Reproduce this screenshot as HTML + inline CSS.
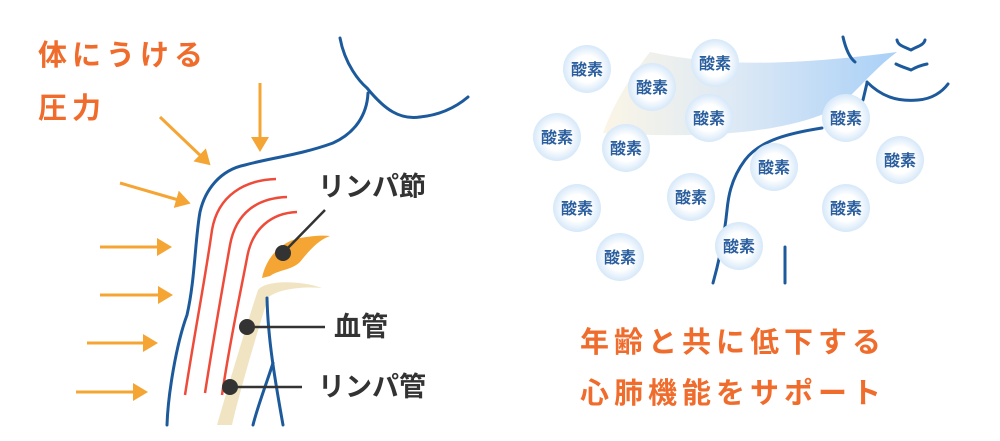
<!DOCTYPE html>
<html><head><meta charset="utf-8"><style>
html,body{margin:0;padding:0;background:#fff;}
svg{display:block;}
.t{font-family:"Liberation Sans","Noto Sans CJK JP",sans-serif;font-weight:bold;}
</style></head><body>
<svg width="1000" height="441" viewBox="0 0 1000 441" xmlns="http://www.w3.org/2000/svg">
<defs>
<linearGradient id="g" x1="0" y1="0" x2="1" y2="0">
<stop offset="0" stop-color="#fbf5e6"/><stop offset="0.45" stop-color="#dde9f5"/><stop offset="1" stop-color="#a9d0f7"/>
</linearGradient>
<radialGradient id="c" cx="0.5" cy="0.5" r="0.5">
<stop offset="0.55" stop-color="#ffffff"/><stop offset="1" stop-color="#d6e8f9"/>
</radialGradient>
<marker id="ah" markerWidth="6" markerHeight="6" refX="2" refY="3" orient="auto" markerUnits="strokeWidth">
<path d="M0,0 L5,3 L0,6 Z" fill="#f5a534"/></marker>
</defs>

<text class="t" x="38" y="65" font-size="29" fill="#ef6c2c" letter-spacing="5">体にうける</text>
<text class="t" x="38" y="118" font-size="29" fill="#ef6c2c" letter-spacing="5">圧力</text>

<g stroke="#f5a534" stroke-width="3" fill="none" marker-end="url(#ah)">
<line x1="260" y1="83" x2="260" y2="143"/>
<line x1="160" y1="117" x2="204" y2="159"/>
<line x1="120" y1="183" x2="182" y2="201"/>
<line x1="100" y1="247" x2="163" y2="247"/>
<line x1="100" y1="295" x2="164" y2="295"/>
<line x1="87" y1="343" x2="149" y2="343"/>
<line x1="76" y1="392" x2="139" y2="392"/>
</g>

<path d="M217,425 C230,380 248,320 258,290 C265,280 300,280 322,288 C300,286 275,290 268,298 C258,330 240,390 232,425 Z" fill="#f1e4c3"/>
<path d="M262,278 C266,258 280,242 300,238 C312,236 322,235 330,236 C318,240 308,252 300,262 C292,270 278,270 270,276 Z" fill="#f5a534"/>

<g stroke="#ee4b3a" stroke-width="2.5" fill="none">
<path d="M185,395 C195,330 205,280 212,230 C218,195 245,180 276,179"/>
<path d="M205,393 C214,335 223,285 230,245 C236,212 258,198 287,197"/>
<path d="M222,395 C230,340 240,295 247,258 C252,228 272,213 297,212"/>
</g>

<g stroke="#1d5a9c" stroke-width="3" fill="none" stroke-linecap="round">
<path d="M167,425 C168,395 176,345 187,315 C195,280 195,240 200,212 C205,190 220,170 245,165 C270,158 300,155 333,143 C355,133 367,115 368,93"/>
<path d="M340,38 C345,65 360,82 367,88 C385,110 400,120 420,117 C440,115 455,108 468,97"/>
<path d="M267,298 C268,340 275,380 283,425"/>
<path d="M253,425 C258,405 266,385 273,363"/>
</g>

<g stroke="#333" stroke-width="2.5">
<line x1="283" y1="253" x2="325" y2="210"/>
<line x1="247" y1="327" x2="325" y2="327"/>
<line x1="230" y1="387" x2="302" y2="387"/>
</g>
<g fill="#333">
<circle cx="283" cy="253" r="8"/>
<circle cx="247" cy="327" r="8"/>
<circle cx="230" cy="387" r="8"/>
</g>
<g class="t" font-size="27" fill="#333">
<text x="318" y="196">リンパ節</text>
<text x="334" y="336">血管</text>
<text x="318" y="396">リンパ管</text>
</g>

<path d="M650,52 C700,62 760,70 897,52 C870,72 850,100 833,110 C790,130 720,140 603,133 C615,100 632,75 650,52 Z" fill="url(#g)"/>

<g stroke="#1d5a9c" stroke-width="3" fill="none" stroke-linecap="round">
<path d="M843,37 C846,50 850,58 855,62"/>
<path d="M867,83 L863,100"/>
<path d="M867,82 C880,95 895,102 918,100 C932,99 942,92 948,84"/>
<path d="M897,40 C898,45 902,46 911,50 C918,46 924,45 925,40"/>
<path d="M896,64 C902,67 906,68 911,70 C918,66 922,65 927,64"/>
<path d="M822,128 C790,133 760,140 745,160 C730,180 728,200 727,210 C724,240 718,265 713,283"/>
<path d="M785,247 L785,283"/>
</g>

<g>
<circle cx="587" cy="69" r="24" fill="url(#c)"/>
<circle cx="652" cy="87" r="24" fill="url(#c)"/>
<circle cx="715" cy="63" r="24" fill="url(#c)"/>
<circle cx="557" cy="137" r="24" fill="url(#c)"/>
<circle cx="626" cy="148" r="24" fill="url(#c)"/>
<circle cx="709" cy="118" r="24" fill="url(#c)"/>
<circle cx="846" cy="118" r="24" fill="url(#c)"/>
<circle cx="774" cy="167" r="24" fill="url(#c)"/>
<circle cx="900" cy="160" r="24" fill="url(#c)"/>
<circle cx="577" cy="208" r="24" fill="url(#c)"/>
<circle cx="691" cy="197" r="24" fill="url(#c)"/>
<circle cx="846" cy="208" r="24" fill="url(#c)"/>
<circle cx="620" cy="257" r="24" fill="url(#c)"/>
<circle cx="739" cy="246" r="24" fill="url(#c)"/>
</g>
<g class="t" font-size="16" fill="#2a5e9e" text-anchor="middle">
<text x="587" y="75">酸素</text>
<text x="652" y="93">酸素</text>
<text x="715" y="69">酸素</text>
<text x="557" y="143">酸素</text>
<text x="626" y="154">酸素</text>
<text x="709" y="124">酸素</text>
<text x="846" y="124">酸素</text>
<text x="774" y="173">酸素</text>
<text x="900" y="166">酸素</text>
<text x="577" y="214">酸素</text>
<text x="691" y="203">酸素</text>
<text x="846" y="214">酸素</text>
<text x="620" y="263">酸素</text>
<text x="739" y="252">酸素</text>
</g>

<text class="t" x="580" y="352" font-size="29" fill="#ef6c2c" letter-spacing="5">年齢と共に低下する</text>
<text class="t" x="580" y="403" font-size="29" fill="#ef6c2c" letter-spacing="5">心肺機能をサポート</text>
</svg>
</body></html>
